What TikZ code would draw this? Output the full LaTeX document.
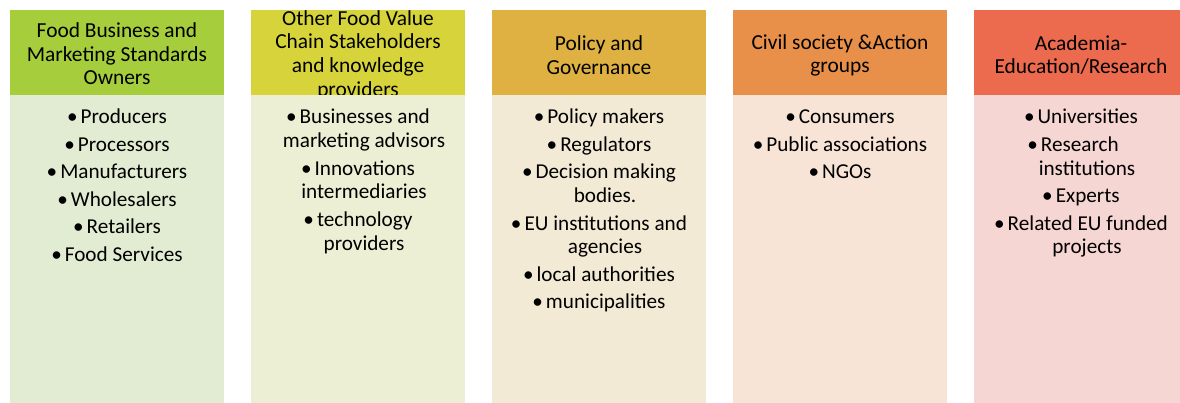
\documentclass[tikz,border=0pt]{standalone}
\usepackage{fontspec}
\setmainfont{Carlito}
\definecolor{hA}{RGB}{165,205,60}\definecolor{bA}{RGB}{226,236,210}
\definecolor{hB}{RGB}{214,212,58}\definecolor{bB}{RGB}{237,239,212}
\definecolor{hC}{RGB}{222,177,66}\definecolor{bC}{RGB}{243,234,213}
\definecolor{hD}{RGB}{232,144,73}\definecolor{bD}{RGB}{248,228,214}
\definecolor{hE}{RGB}{236,106,78}\definecolor{bE}{RGB}{246,214,211}
\newcommand{\bul}{\textbullet\hspace{3pt}}
\newcommand{\cont}{\hspace*{12pt}}
\newcommand{\isep}{\\[3.8pt]}
\tikzset{
  headtext/.style={inner sep=0pt, align=center, font=\fontsize{21.4}{23.6}\selectfont},
  bodytext/.style={inner sep=0pt, anchor=base, font=\fontsize{21.2}{23.7}\selectfont},
}
\begin{document}
\begin{tikzpicture}[x=1pt,y=-1pt]
\useasboundingbox (0,0) rectangle (1180,403);
\clip (0,0) rectangle (1180,403);
% column 1
\fill[hA] (10,10) rectangle (224,95);
\node[headtext] (h1) at (117,54) {Food Business and\\Marketing Standards\\Owners};
\fill[bA] (10,95) rectangle (224,403);
\node[bodytext] (b1) at (117,124) {\begin{tabular}[t]{@{}c@{}}
\bul Producers\isep
\bul Processors\isep
\bul Manufacturers\isep
\bul Wholesalers\isep
\bul Retailers\isep
\bul Food Services
\end{tabular}};
% column 2
\fill[hB] (251,10) rectangle (465,95);
\node[headtext] (h2) at (358,55) {Other Food Value\\Chain Stakeholders\\and knowledge\\providers};
\fill[bB] (251,95) rectangle (465,403);
\node[bodytext] (b2) at (358,124) {\begin{tabular}[t]{@{}c@{}}
\bul Businesses and\\
\cont marketing advisors\isep
\bul Innovations\\
\cont intermediaries\isep
\bul technology\\
\cont providers
\end{tabular}};
% column 3
\fill[hC] (492,10) rectangle (706,95);
\node[headtext] (h3) at (599,55) {Policy and\\Governance};
\fill[bC] (492,95) rectangle (706,403);
\node[bodytext] (b3) at (599,124) {\begin{tabular}[t]{@{}c@{}}
\bul Policy makers\isep
\bul Regulators\isep
\bul Decision making\\
\cont bodies.\isep
\bul EU institutions and\\
\cont agencies\isep
\bul local authorities\isep
\bul municipalities
\end{tabular}};
% column 4
\fill[hD] (733,10) rectangle (947,95);
\node[headtext] (h4) at (840,55.5) {Civil society \&Action\\groups};
\fill[bD] (733,95) rectangle (947,403);
\node[bodytext] (b4) at (840,124) {\begin{tabular}[t]{@{}c@{}}
\bul Consumers\isep
\bul Public associations\isep
\bul NGOs
\end{tabular}};
% column 5
\fill[hE] (974,10) rectangle (1188,95);
\node[headtext] (h5) at (1081,55) {Academia-\\Education/Research};
\fill[bE] (974,95) rectangle (1188,403);
\node[bodytext] (b5) at (1081,124) {\begin{tabular}[t]{@{}c@{}}
\bul Universities\isep
\bul Research\hspace*{16pt}\\
\cont institutions\isep
\bul Experts\isep
\bul Related EU funded\\
\cont projects
\end{tabular}};
\end{tikzpicture}
\end{document}
